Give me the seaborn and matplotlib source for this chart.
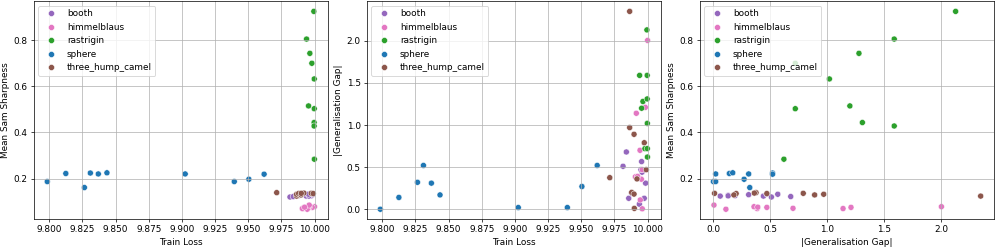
import pandas as pd
import seaborn as sns
import matplotlib.pyplot as plt

# values, one list per test function
functions = ["booth", "himmelblaus", "rastrigin", "sphere", "three_hump_camel"]

booth_train = [9.9938, 9.9858, 9.9975, 9.9985, 9.9958, 9.9950, 9.9815, 9.9955, 9.9840, 9.9880]
booth_gap = [0.06, 0.13, 0.13, 0.31, 0.44, 0.47, 0.51, 0.566, 0.68, 0.19]
booth_sharp = [0.124, 0.127, 0.125, 0.130, 0.124, 0.133, 0.120, 0.132, 0.122, 0.126]

himmel_train = [10.000, 9.9983, 9.9915, 9.9943, 9.9960, 9.9908, 9.9953, 9.9945, 9.9960, 9.9925]
himmel_gap = [2.005, 1.21, 1.14, 0.70, 0.47, 0.385, 0.357, 0.11, 0.005, 0.39]
himmel_sharp = [0.078, 0.075, 0.070, 0.071, 0.075, 0.070, 0.078, 0.067, 0.085, 0.076]

rastrigin_train = [9.9995, 9.9940, 9.9965, 9.9980, 9.9998, 9.9955, 9.9998, 9.9997, 9.9997, 9.9999]
rastrigin_gap = [2.13, 1.59, 1.28, 0.72, 1.02, 1.20, 0.72, 1.31, 1.59, 0.62]
rastrigin_sharp = [0.925, 0.805, 0.743, 0.700, 0.632, 0.515, 0.503, 0.443, 0.428, 0.284]

sphere_train = [9.7985, 9.8125, 9.8265, 9.831, 9.837, 9.8435, 9.9025, 9.9395, 9.9505, 9.962]
sphere_gap = [0.00, 0.14, 0.32, 0.52, 0.31, 0.17, 0.02, 0.02, 0.27, 0.52]
sphere_sharp = [0.187, 0.222, 0.161, 0.224, 0.220, 0.225, 0.220, 0.187, 0.197, 0.219]

camel_train = [9.9865, 9.9865, 9.9898, 9.9975, 9.9990, 9.9715, 9.9920, 9.9880, 9.9898, 9.9900]
camel_gap = [2.35, 0.97, 0.89, 0.79, 0.47, 0.375, 0.36, 0.20, 0.18, 0.01]
camel_sharp = [0.124, 0.132, 0.129, 0.136, 0.135, 0.139, 0.137, 0.135, 0.129, 0.136]

colors = {"booth": "#9467bd", "himmelblaus": "#e377c2", "rastrigin": "#2ca02c",
          "sphere": "#1f77b4", "three_hump_camel": "#8c564b"}

# Prepare data for plotting
parts = [
    ("booth", booth_train, booth_gap, booth_sharp),
    ("himmelblaus", himmel_train, himmel_gap, himmel_sharp),
    ("rastrigin", rastrigin_train, rastrigin_gap, rastrigin_sharp),
    ("sphere", sphere_train, sphere_gap, sphere_sharp),
    ("three_hump_camel", camel_train, camel_gap, camel_sharp),
]
data_list = []
for name, tr, gp, sh in parts:
    data_list.append(pd.DataFrame({"Train Loss": tr, "|Generalisation Gap|": gp,
                                   "Mean Sam Sharpness": sh, "function": name}))
plot_df = pd.concat(data_list, ignore_index=True)

dpi = 64
fig, axes = plt.subplots(1, 3, figsize=(997 / dpi, 249 / dpi), dpi=dpi)
plt.subplots_adjust(left=0.034, right=0.997, bottom=0.12, top=0.994, wspace=0.133)

pairs = [("Train Loss", "Mean Sam Sharpness"),
         ("Train Loss", "|Generalisation Gap|"),
         ("|Generalisation Gap|", "Mean Sam Sharpness")]
for ax, (xcol, ycol) in zip(axes, pairs):
    sns.scatterplot(data=plot_df, x=xcol, y=ycol, hue="function",
                    hue_order=functions, palette=colors, s=46, ax=ax)
    ax.grid(True)
    handles, labels = ax.get_legend_handles_labels()
    ax.legend(handles, labels, loc="upper left")

plt.savefig("out.png", dpi=dpi)
